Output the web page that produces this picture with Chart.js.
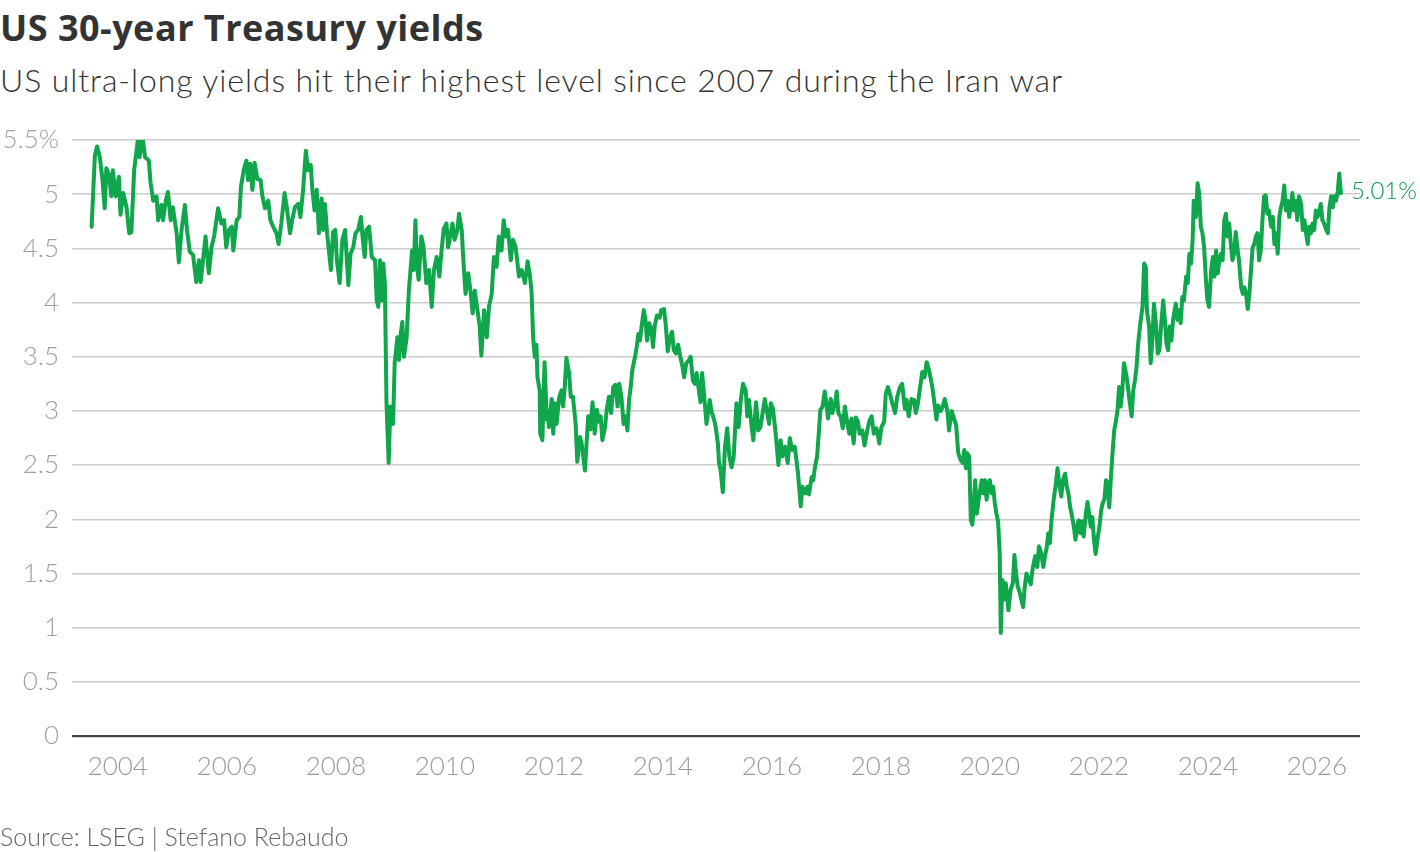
<!DOCTYPE html>
<html>
<head>
<meta charset="utf-8">
<script src="https://cdn.jsdelivr.net/npm/chart.js@4/dist/chart.umd.min.js"></script>
<style>
  html, body { margin: 0; padding: 0; background: #fff; }
  body { width: 1420px; height: 852px; position: relative; overflow: hidden; font-family: Lato, "Noto Sans", sans-serif; }
  #title { position: absolute; left: 0; top: 6px; font-family: "Open Sans", "Noto Sans", sans-serif; font-size: 36px; line-height: 44px; font-weight: 700; color: #333; letter-spacing: 0.5px; white-space: nowrap; }
  #subtitle { position: absolute; left: 0; top: 61px; font-size: 32px; line-height: 38px; font-weight: 300; color: #333; letter-spacing: 0.9px; white-space: nowrap; }
  #source { position: absolute; left: 0; top: 821px; font-size: 25px; line-height: 30px; font-weight: 300; color: #666; white-space: nowrap; }
  canvas { position: absolute; left: 0; top: 0; }
</style>
</head>
<body>
<div id="title">US 30-year Treasury yields</div>
<div id="subtitle">US ultra-long yields hit their highest level since 2007 during the Iran war</div>
<canvas id="c" width="1420" height="852"></canvas>
<div id="source">Source: LSEG | Stefano Rebaudo</div>
<script>
// Dates as decimal years, values in percent
const dates = [
  2003.52,2003.58,2003.62,2003.67,2003.72,2003.76,2003.79,2003.84,2003.88,2003.91,2003.96,
  2004.02,2004.05,2004.10,2004.16,2004.21,2004.25,2004.30,2004.37,2004.40,2004.45,2004.50,2004.57,2004.60,2004.65,2004.71,2004.74,2004.80,2004.83,2004.88,2004.92,2004.97,
  2005.01,2005.08,2005.12,2005.17,2005.23,2005.27,2005.32,2005.38,2005.44,2005.49,2005.52,2005.57,2005.61,2005.67,2005.72,2005.77,2005.84,2005.90,2005.95,2005.99,
  2006.04,2006.09,2006.12,2006.18,2006.23,2006.26,2006.31,2006.36,2006.39,2006.43,2006.47,2006.51,2006.56,2006.62,2006.65,2006.70,2006.76,2006.80,2006.85,2006.91,2006.95,
  2007.00,2007.06,2007.10,2007.16,2007.20,2007.25,2007.31,2007.35,2007.40,2007.45,2007.49,2007.54,2007.57,2007.61,2007.65,2007.69,2007.74,2007.77,2007.80,2007.84,2007.91,2007.95,2007.99,
  2008.02,2008.07,2008.12,2008.17,2008.23,2008.27,2008.32,2008.36,2008.41,2008.46,2008.49,2008.53,2008.56,2008.61,2008.66,2008.72,2008.75,2008.78,2008.81,2008.84,2008.87,2008.90,2008.93,2008.97,
  2009.00,2009.05,2009.08,2009.13,2009.16,2009.19,2009.22,2009.25,2009.30,2009.34,2009.37,2009.40,2009.43,2009.46,2009.49,2009.52,2009.57,2009.61,2009.66,2009.71,2009.76,2009.80,2009.85,2009.90,2009.94,2009.98,
  2010.03,2010.06,2010.10,2010.14,2010.18,2010.23,2010.26,2010.31,2010.34,2010.38,2010.43,2010.47,2010.51,2010.55,2010.59,2010.64,2010.67,2010.72,2010.77,2010.81,2010.86,2010.90,2010.95,2010.99,
  2011.04,2011.08,2011.12,2011.16,2011.21,2011.25,2011.30,2011.36,2011.41,2011.47,2011.52,2011.56,2011.59,2011.62,2011.65,2011.68,2011.70,2011.74,2011.75,2011.79,2011.81,2011.83,2011.87,2011.89,2011.91,2011.96,2011.99,
  2012.02,2012.05,2012.10,2012.14,2012.17,2012.20,2012.23,2012.28,2012.31,2012.35,2012.40,2012.43,2012.48,2012.51,2012.57,2012.60,2012.63,2012.67,2012.71,2012.75,2012.79,2012.83,2012.86,2012.89,2012.94,2012.97,
  2013.01,2013.05,2013.09,2013.13,2013.17,2013.20,2013.24,2013.28,2013.32,2013.35,2013.38,2013.41,2013.44,2013.49,2013.52,2013.55,2013.58,2013.61,2013.65,2013.68,2013.71,2013.75,2013.79,2013.82,2013.85,2013.89,2013.94,2013.97,
  2014.02,2014.05,2014.09,2014.13,2014.17,2014.20,2014.24,2014.28,2014.32,2014.36,2014.39,2014.43,2014.48,2014.51,2014.55,2014.59,2014.62,2014.66,2014.69,2014.72,2014.75,2014.80,2014.83,2014.86,2014.89,2014.94,2014.97,
  2015.01,2015.03,2015.06,2015.10,2015.14,2015.18,2015.22,2015.26,2015.30,2015.35,2015.39,2015.43,2015.47,2015.52,2015.55,2015.58,2015.63,2015.66,2015.71,2015.75,2015.79,2015.83,2015.87,2015.90,2015.95,2015.98,
  2016.02,2016.07,2016.12,2016.16,2016.19,2016.24,2016.29,2016.33,2016.37,2016.42,2016.45,2016.48,2016.53,2016.56,2016.61,2016.65,2016.68,2016.73,2016.76,2016.79,2016.83,2016.86,2016.89,2016.93,2016.97,
  2017.00,2017.03,2017.08,2017.11,2017.16,2017.19,2017.22,2017.26,2017.30,2017.34,2017.38,2017.42,2017.46,2017.50,2017.54,2017.58,2017.61,2017.66,2017.70,2017.75,2017.79,2017.83,2017.87,2017.92,2017.97,
  2018.01,2018.06,2018.09,2018.13,2018.18,2018.21,2018.26,2018.30,2018.35,2018.39,2018.44,2018.47,2018.51,2018.56,2018.61,2018.64,2018.68,2018.72,2018.76,2018.80,2018.84,2018.88,2018.91,2018.95,2018.98,
  2019.02,2019.05,2019.10,2019.14,2019.17,2019.22,2019.25,2019.30,2019.34,2019.38,2019.42,2019.46,2019.50,2019.53,2019.56,2019.58,2019.62,2019.65,2019.68,2019.73,2019.76,2019.80,2019.85,2019.88,2019.91,2019.94,2019.97,
  2020.00,2020.03,2020.06,2020.09,2020.12,2020.15,2020.18,2020.20,2020.23,2020.26,2020.29,2020.34,2020.38,2020.42,2020.45,2020.48,2020.51,2020.55,2020.58,2020.61,2020.64,2020.67,2020.72,2020.75,2020.78,2020.83,2020.87,2020.90,2020.94,2020.98,
  2021.01,2021.04,2021.07,2021.10,2021.13,2021.17,2021.21,2021.24,2021.28,2021.31,2021.34,2021.38,2021.41,2021.44,2021.47,2021.51,2021.54,2021.57,2021.60,2021.63,2021.66,2021.69,2021.72,2021.76,2021.79,2021.82,2021.85,2021.88,2021.91,2021.94,2021.98,
  2022.01,2022.04,2022.07,2022.10,2022.13,2022.16,2022.19,2022.22,2022.25,2022.28,2022.31,2022.34,2022.37,2022.40,2022.43,2022.46,2022.51,2022.54,2022.56,2022.60,2022.63,2022.66,2022.69,2022.72,2022.76,2022.80,2022.83,2022.86,2022.88,2022.92,2022.95,2022.98,
  2023.01,2023.05,2023.08,2023.11,2023.14,2023.18,2023.21,2023.24,2023.27,2023.30,2023.33,2023.36,2023.41,2023.44,2023.47,2023.50,2023.53,2023.56,2023.60,2023.63,2023.66,2023.69,2023.72,2023.74,2023.78,2023.81,2023.84,2023.87,2023.90,2023.93,2023.96,2023.99,
  2024.02,2024.06,2024.09,2024.12,2024.15,2024.18,2024.21,2024.24,2024.27,2024.30,2024.33,2024.36,2024.39,2024.42,2024.45,2024.48,2024.51,2024.54,2024.57,2024.61,2024.64,2024.67,2024.70,2024.73,2024.76,2024.79,2024.82,2024.85,2024.88,2024.91,2024.94,2024.97,
  2025.00,2025.03,2025.06,2025.09,2025.12,2025.16,2025.19,2025.22,2025.25,2025.28,2025.31,2025.34,2025.37,2025.40,2025.43,2025.46,2025.49,2025.52,2025.55,2025.58,2025.61,2025.64,2025.67,2025.71,2025.74,2025.77,2025.80,2025.83,2025.86,2025.89,2025.92,2025.95,2025.98,
  2026.01,2026.04,2026.07,2026.10,2026.13,2026.17,2026.20,2026.23,2026.26,2026.29,2026.32,2026.35,2026.38,2026.41,2026.44
];
const yields = [
  4.70,5.36,5.44,5.34,5.13,4.87,5.24,5.18,4.98,5.22,4.98,
  5.16,4.81,5.01,4.88,4.64,4.65,5.22,5.51,5.34,5.54,5.34,5.31,5.11,4.94,4.98,4.76,4.90,4.76,4.94,5.02,4.76,
  4.88,4.64,4.37,4.67,4.90,4.67,4.47,4.44,4.19,4.39,4.19,4.42,4.61,4.27,4.51,4.62,4.87,4.73,4.76,4.51,
  4.67,4.70,4.48,4.76,4.79,5.07,5.22,5.31,5.13,5.28,5.04,5.29,5.14,5.13,4.99,4.87,4.94,4.76,4.70,4.64,4.54,
  4.73,5.01,4.88,4.64,4.76,4.88,4.91,4.79,5.04,5.40,5.22,5.27,5.04,4.85,5.04,4.64,4.96,4.67,4.91,4.64,4.30,4.65,4.67,
  4.39,4.18,4.58,4.67,4.16,4.45,4.51,4.64,4.67,4.79,4.61,4.42,4.67,4.70,4.42,4.39,4.02,3.96,4.39,4.02,4.36,4.18,3.07,2.52,
  3.04,2.88,3.44,3.68,3.47,3.71,3.82,3.50,3.68,4.11,4.30,4.48,4.30,4.76,4.33,4.21,4.61,4.51,4.18,4.30,3.96,4.30,4.42,4.24,4.48,4.68,
  4.73,4.51,4.61,4.73,4.58,4.67,4.82,4.67,4.39,4.08,4.27,4.11,3.90,4.11,3.96,3.78,3.51,3.93,3.68,3.96,4.08,4.42,4.33,4.61,
  4.48,4.76,4.61,4.67,4.39,4.58,4.51,4.24,4.30,4.18,4.38,4.25,4.11,3.68,3.50,3.61,3.31,3.19,2.79,2.73,3.13,3.45,2.92,3.00,2.85,3.11,2.79,
  3.07,2.88,3.13,3.19,3.04,3.22,3.49,3.35,3.13,3.13,2.88,2.53,2.76,2.70,2.45,2.70,2.95,2.83,3.08,2.79,3.01,2.90,2.95,2.73,2.85,3.01,
  3.13,2.98,3.22,3.24,3.04,3.25,3.13,2.88,2.95,2.82,3.10,3.22,3.38,3.50,3.59,3.71,3.65,3.78,3.93,3.84,3.65,3.81,3.75,3.59,3.78,3.88,3.86,3.93,
  3.94,3.81,3.55,3.68,3.73,3.56,3.53,3.61,3.50,3.41,3.31,3.44,3.47,3.50,3.28,3.25,3.35,3.19,3.08,3.35,3.19,2.88,2.98,3.10,3.00,2.92,2.85,
  2.70,2.52,2.45,2.25,2.67,2.84,2.58,2.48,2.58,3.07,2.85,3.10,3.25,3.19,2.95,3.10,2.85,2.73,3.08,2.82,2.85,2.98,3.11,3.02,2.88,3.07,
  3.02,2.79,2.50,2.73,2.58,2.67,2.52,2.75,2.64,2.67,2.55,2.42,2.12,2.30,2.24,2.30,2.23,2.39,2.36,2.48,2.58,2.79,3.01,3.04,3.18,
  3.07,2.93,3.11,2.98,3.07,3.18,2.98,2.95,2.84,3.04,2.90,2.79,2.93,2.70,2.94,2.90,2.79,2.82,2.68,2.82,2.91,2.95,2.79,2.84,2.70,
  2.85,2.90,3.16,3.22,3.13,3.07,2.98,3.13,3.22,3.25,3.02,3.10,2.95,3.11,3.10,2.98,3.07,3.22,3.36,3.31,3.45,3.38,3.31,3.20,3.08,
  2.92,3.05,3.00,3.05,3.11,3.00,2.82,3.00,2.93,2.87,2.61,2.55,2.52,2.64,2.47,2.61,2.58,1.99,1.95,2.36,2.05,2.21,2.36,2.24,2.36,2.18,2.33,
  2.36,2.24,2.30,2.15,2.05,1.98,1.68,0.95,1.44,1.26,1.41,1.16,1.35,1.41,1.67,1.50,1.38,1.32,1.25,1.19,1.38,1.50,1.44,1.40,1.53,1.66,1.56,1.75,1.69,1.56,
  1.66,1.73,1.87,1.78,1.99,2.18,2.33,2.47,2.30,2.21,2.36,2.42,2.30,2.24,2.12,2.02,1.93,1.81,1.93,1.99,1.87,1.98,1.84,2.05,2.16,2.05,1.93,2.02,1.81,1.68,1.84,
  1.93,2.08,2.15,2.18,2.36,2.33,2.11,2.39,2.61,2.82,2.90,3.00,3.22,3.04,3.19,3.44,3.31,3.19,3.10,2.95,3.19,3.28,3.40,3.62,3.81,3.96,4.36,4.33,3.93,3.78,3.44,3.65,
  3.99,3.78,3.53,3.56,3.78,4.02,3.84,3.62,3.56,3.78,3.65,3.84,3.99,3.84,3.93,3.81,4.05,4.02,4.24,4.18,4.45,4.36,4.58,4.94,4.79,5.10,5.01,4.70,4.64,4.51,4.24,4.02,
  3.96,4.30,4.42,4.24,4.48,4.27,4.39,4.45,4.39,4.76,4.82,4.61,4.73,4.54,4.39,4.45,4.65,4.51,4.39,4.14,4.08,4.14,4.08,3.94,4.08,4.30,4.51,4.54,4.61,4.64,4.39,4.48,
  4.76,4.98,4.99,4.82,4.85,4.70,4.79,4.54,4.64,4.45,4.79,4.88,4.94,5.08,4.85,4.94,4.79,4.88,5.01,4.85,4.94,4.76,4.98,4.91,4.67,4.76,4.64,4.54,4.70,4.64,4.73,4.67,4.85,
  4.79,4.82,4.91,4.76,4.73,4.67,4.64,4.88,4.98,4.88,4.98,4.94,5.02,5.19,5.01
];
const xTickYears = [2004, 2006, 2008, 2010, 2012, 2014, 2016, 2018, 2020, 2022, 2024, 2026];
const yTickValues = [0, 0.5, 1, 1.5, 2, 2.5, 3, 3.5, 4, 4.5, 5, 5.5];
const xRange = [2003.16, 2026.79];

const GREEN = '#10a64c';
const points = dates.map((d, i) => ({ x: d, y: yields[i] }));

const endLabel = {
  id: 'endLabel',
  afterDatasetsDraw(chart) {
    const meta = chart.getDatasetMeta(0);
    const last = meta.data[meta.data.length - 1];
    const v = yields[yields.length - 1];
    const ctx = chart.ctx;
    ctx.save();
    ctx.font = '300 24px Lato, "Noto Sans", sans-serif';
    ctx.fillStyle = '#0d9a47';
    ctx.textAlign = 'left';
    ctx.textBaseline = 'middle';
    ctx.fillText(v.toFixed(2) + '%', last.x + 10, last.y - 2);
    ctx.restore();
  }
};

new Chart(document.getElementById('c'), {
  type: 'line',
  data: {
    datasets: [{
      data: points,
      borderColor: GREEN,
      borderWidth: 4,
      pointRadius: 0,
      tension: 0,
      borderJoinStyle: 'round',
      borderCapStyle: 'round',
      fill: false
    }]
  },
  options: {
    responsive: false,
    animation: false,
    events: [],
    layout: { padding: { top: 140, right: 60, bottom: 0, left: 0 } },
    plugins: { legend: { display: false }, tooltip: { enabled: false } },
    scales: {
      x: {
        type: 'linear',
        min: xRange[0],
        max: xRange[1],
        afterFit(s) { s.height = 116; },
        afterBuildTicks(s) { s.ticks = xTickYears.map(v => ({ value: v })); },
        grid: { display: false },
        border: { display: false },
        ticks: {
          autoSkip: false,
          maxRotation: 0,
          padding: 7,
          color: '#9a9a9a',
          font: { family: 'Lato, "Noto Sans", sans-serif', size: 26, weight: '300' },
          callback: v => String(v)
        }
      },
      y: {
        min: 0,
        max: 5.5,
        afterFit(s) { s.width = 72; },
        afterBuildTicks(s) { s.ticks = yTickValues.map(v => ({ value: v })); },
        grid: {
          drawTicks: false,
          color: c => c.tick && c.tick.value === 0 ? '#444444' : '#cccccc',
          lineWidth: c => c.tick && c.tick.value === 0 ? 2.2 : 1.5
        },
        border: { display: false },
        ticks: {
          padding: 13,
          color: '#a0a0a0',
          font: { family: 'Lato, "Noto Sans", sans-serif', size: 26, weight: '300' },
          callback: (v, i, arr) => i === arr.length - 1 ? v + '%' : String(v)
        }
      }
    }
  },
  plugins: [endLabel]
});
</script>
</body>
</html>
